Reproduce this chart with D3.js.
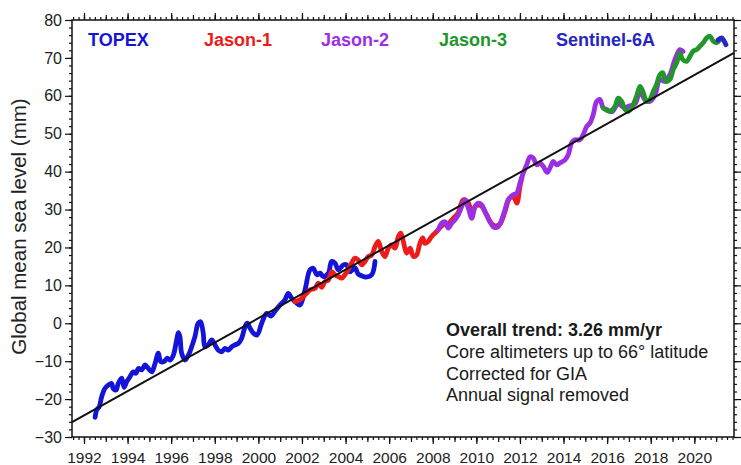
<!DOCTYPE html>
<html>
<head>
<meta charset="utf-8">
<script src="https://cdn.jsdelivr.net/npm/d3@7"></script>
<style>
    body { margin: 0; background: #fff; }
    svg text { font-family: "Liberation Sans", Arial, Helvetica, sans-serif; }
</style>
</head>
<body>
<svg id="gmsl" width="741" height="465"></svg>
<script>
// values (decimal year, mm)
const topexYears = [1992.51, 1992.58, 1992.70, 1992.81, 1992.96, 1993.12, 1993.27, 1993.34, 1993.47, 1993.57,
    1993.73, 1993.84, 1993.96, 1994.11, 1994.26, 1994.39, 1994.49, 1994.65, 1994.80, 1994.95,
    1995.11, 1995.26, 1995.41, 1995.52, 1995.67, 1995.82, 1995.95, 1996.10, 1996.25, 1996.33,
    1996.40, 1996.48, 1996.63, 1996.79, 1996.94, 1997.09, 1997.24, 1997.35, 1997.47, 1997.55,
    1997.70, 1997.86, 1998.01, 1998.16, 1998.32, 1998.47, 1998.62, 1998.78, 1998.93, 1999.08,
    1999.23, 1999.39, 1999.49, 1999.62, 1999.77, 1999.94, 2000.17, 2000.38, 2000.58, 2000.76,
    2000.99, 2001.22, 2001.37, 2001.53, 2001.76, 2001.91, 2002.14, 2002.37, 2002.52, 2002.68,
    2002.83, 2002.98, 2003.21, 2003.36, 2003.51, 2003.67, 2003.90, 2004.05, 2004.20, 2004.43,
    2004.58, 2004.75, 2004.94, 2005.20, 2005.35];
const topexValues = [-24.8, -22.9, -22.0, -19.4, -17.2, -16.3, -15.9, -17.2, -17.6, -15.9,
    -14.5, -16.9, -15.4, -14.1, -12.8, -13.2, -11.9, -12.3, -11.0, -11.9,
    -12.8, -10.6, -7.9, -10.1, -10.1, -9.2, -9.7, -8.4, -4.4, -2.5,
    -3.5, -7.9, -9.7, -8.4, -6.2, -3.5, 0.0, 0.4, -2.6, -6.2,
    -5.7, -4.4, -5.7, -7.1, -7.5, -6.6, -7.1, -6.2, -5.7, -5.3,
    -4.0, -0.9, 0.0, -1.3, -2.6, -3.1, 0.3, 2.6, 1.9, 3.2,
    4.8, 6.2, 7.9, 6.6, 5.3, 4.8, 8.8, 14.1, 14.5, 12.8,
    13.2, 12.3, 13.2, 16.3, 15.9, 14.1, 15.4, 15.4, 13.6, 14.6,
    13.0, 12.5, 12.2, 12.8, 16.3];

const jason1Years = [2001.68, 2001.91, 2002.14, 2002.37, 2002.60, 2002.75, 2002.90, 2003.06, 2003.21, 2003.36,
    2003.51, 2003.67, 2003.82, 2003.97, 2004.12, 2004.28, 2004.43, 2004.58, 2004.74, 2004.89,
    2005.04, 2005.20, 2005.35, 2005.50, 2005.66, 2005.81, 2005.96, 2006.12, 2006.27, 2006.42,
    2006.53, 2006.65, 2006.80, 2006.96, 2007.11, 2007.26, 2007.41, 2007.54, 2007.64, 2007.79,
    2007.95, 2008.18, 2008.48, 2008.70, 2008.94, 2009.16, 2009.40, 2009.63, 2009.80, 2009.98,
    2010.21, 2010.44, 2010.67, 2010.85, 2011.08, 2011.31, 2011.54, 2011.73, 2011.86, 2012.00,
    2012.09];
const jason1Values = [5.7, 6.2, 7.5, 8.8, 9.2, 10.6, 9.5, 11.0, 11.4, 13.6,
    12.8, 12.3, 11.9, 12.8, 14.1, 15.9, 17.2, 16.7, 15.4, 16.3,
    17.6, 18.0, 20.2, 21.6, 18.9, 17.6, 19.8, 20.7, 19.8, 22.9,
    23.8, 21.6, 18.5, 19.8, 17.6, 18.0, 21.1, 22.5, 21.1, 21.6,
    22.9, 24.2, 26.0, 26.2, 27.7, 29.1, 32.6, 31.8, 28.9, 31.0,
    31.0, 28.9, 26.5, 25.7, 26.2, 29.4, 33.1, 33.1, 31.7, 36.1,
    38.4];

const jason2Years = [2008.25, 2008.41, 2008.56, 2008.71, 2008.87, 2009.02, 2009.17, 2009.33, 2009.48, 2009.63,
    2009.79, 2009.94, 2010.09, 2010.24, 2010.40, 2010.62, 2010.81, 2011.01, 2011.16, 2011.31,
    2011.46, 2011.69, 2011.85, 2012.00, 2012.15, 2012.31, 2012.46, 2012.61, 2012.77, 2012.92,
    2013.07, 2013.25, 2013.41, 2013.53, 2013.68, 2013.84, 2014.07, 2014.22, 2014.37, 2014.52,
    2014.75, 2014.90, 2015.06, 2015.21, 2015.36, 2015.52, 2015.67, 2015.82, 2015.98, 2016.22,
    2016.50, 2016.77, 2017.05, 2017.28, 2017.51, 2017.73, 2017.96, 2018.19, 2018.42, 2018.65,
    2018.88, 2019.11, 2019.34, 2019.48];
const jason2Values = [24.6, 26.4, 26.8, 25.1, 26.4, 27.3, 28.6, 30.8, 32.6, 30.4,
    27.7, 30.8, 31.7, 31.3, 29.5, 26.8, 25.3, 25.5, 27.3, 29.9,
    32.6, 33.9, 34.3, 37.0, 39.6, 41.8, 43.9, 43.6, 41.8, 42.3,
    41.4, 39.8, 41.4, 42.7, 41.8, 42.3, 43.1, 44.5, 47.6, 48.4,
    48.4, 49.7, 51.9, 52.8, 55.0, 58.5, 59.0, 56.8, 56.4, 55.8,
    57.9, 56.9, 57.4, 57.9, 61.1, 59.0, 58.5, 60.1, 64.3, 63.8,
    65.6, 69.6, 72.2, 71.7];

const jason3Years = [2015.82, 2016.13, 2016.36, 2016.51, 2016.67, 2016.82, 2016.97, 2017.12, 2017.35, 2017.51,
    2017.66, 2017.81, 2017.96, 2018.12, 2018.27, 2018.42, 2018.55, 2018.70, 2018.88, 2019.03,
    2019.19, 2019.34, 2019.46, 2019.65, 2019.80, 2019.95, 2020.11, 2020.26, 2020.41, 2020.57,
    2020.72, 2020.87, 2021.02, 2021.18];
const jason3Values = [56.8, 55.9, 57.2, 59.4, 58.5, 56.4, 55.9, 56.8, 59.9, 62.5,
    60.8, 58.5, 59.0, 61.2, 63.0, 65.6, 66.1, 63.8, 64.3, 66.9,
    68.7, 71.3, 69.6, 69.1, 70.4, 71.8, 72.2, 73.1, 74.0, 75.3,
    75.7, 74.4, 74.0, 74.8];

const sentinelYears = [2021.08, 2021.25, 2021.37, 2021.45];
const sentinelValues = [74.7, 75.3, 74.4, 73.5];

const trendYears = [1991.45, 2021.82];
const trendValues = [-26.1, 71.3];

const missionNames = ['TOPEX', 'Jason-1', 'Jason-2', 'Jason-3', 'Sentinel-6A'];
const missionColors = ['#1414d8', '#ee1b1b', '#9b2fe3', '#22962b', '#2626c4'];

const yearTicks = d3.range(1992, 2021, 2);
const valueTicks = d3.range(-30, 81, 10);
const noteLines = ['Overall trend: 3.26 mm/yr', 'Core altimeters up to 66° latitude',
    'Corrected for GIA', 'Annual signal removed'];

/** Class drawing the sea level chart. */
class SeaLevelChart {
    /**
     * Creates the chart and its scales
     */
    constructor() {
        this.svg = d3.select('svg#gmsl');
        this.left = 72;
        this.right = 734;
        this.top = 20;
        this.bottom = 437;
        this.x = d3.scaleLinear().domain([1991.45, 2021.82]).range([this.left, this.right]);
        this.y = d3.scaleLinear().domain([-30, 80]).range([this.bottom, this.top]);
    }

    /**
     * Draws the frame and the ticks on all four sides
     */
    drawAxes() {
        let x = this.x, y = this.y;
        let quarters = d3.range(1991.5, 2021.8, 0.25);
        let years = d3.range(1992, 2022, 1);
        let minorY = d3.range(-30, 81, 2);

        let sides = [
            {axis: d3.axisBottom(x), at: [0, this.bottom], horizontal: true},
            {axis: d3.axisTop(x), at: [0, this.top], horizontal: true},
            {axis: d3.axisLeft(y), at: [this.left, 0], horizontal: false},
            {axis: d3.axisRight(y), at: [this.right, 0], horizontal: false}
        ];
        for (let s of sides) {
            let g = this.svg.append('g').attr('transform', 'translate(' + s.at + ')');
            // minor ticks
            g.append('g').call(s.axis.tickValues(s.horizontal ? quarters : minorY)
                .tickSize(3).tickSizeOuter(0).tickFormat(''));
            if (s.horizontal) {
                g.append('g').call(s.axis.tickValues(years).tickSize(5).tickFormat(''));
            }
            g.append('g').attr('class', 'major')
                .call(s.axis.tickValues(s.horizontal ? yearTicks : valueTicks).tickSize(7));
            g.selectAll('.domain').remove();
            g.selectAll('line').attr('stroke', '#111').attr('stroke-width', 1.2);
        }

        // labels only on bottom and left
        let bottomAxis = d3.axisBottom(x).tickValues(yearTicks).tickSize(0).tickPadding(15)
            .tickFormat(d3.format('d'));
        this.svg.append('g').attr('transform', 'translate(0,' + this.bottom + ')')
            .call(bottomAxis)
            .call(g => g.select('.domain').remove())
            .selectAll('text').attr('font-size', 15.5).attr('fill', '#222');
        let leftAxis = d3.axisLeft(y).tickValues(valueTicks).tickSize(0).tickPadding(10);
        this.svg.append('g').attr('transform', 'translate(' + this.left + ',0)')
            .call(leftAxis)
            .call(g => g.select('.domain').remove())
            .selectAll('text').attr('font-size', 16).attr('fill', '#222');
        this.svg.selectAll('.major text').remove();

        this.svg.append('rect')
            .attr('x', this.left).attr('y', this.top)
            .attr('width', this.right - this.left).attr('height', this.bottom - this.top)
            .attr('fill', 'none').attr('stroke', '#111').attr('stroke-width', 1.5);

        this.svg.append('text')
            .attr('transform', 'translate(26,' + ((this.top + this.bottom) / 2 - 2) + ') rotate(-90)')
            .attr('text-anchor', 'middle')
            .attr('font-size', 20.5)
            .attr('fill', '#222')
            .text('Global mean sea level (mm)');
    }

    /**
     * Draws one mission curve
     */
    drawSeries(years, values, color) {
        let line = d3.line()
            .x(d => this.x(d[0]))
            .y(d => this.y(d[1]))
            .curve(d3.curveCatmullRom.alpha(0.5));
        this.svg.append('path')
            .datum(d3.zip(years, values))
            .attr('d', line)
            .attr('fill', 'none')
            .attr('stroke', color)
            .attr('stroke-width', 4.8)
            .attr('stroke-linejoin', 'round')
            .attr('stroke-linecap', 'round');
    }

    /**
     * Draws the trend line, mission names and the note
     */
    drawLabels() {
        this.svg.append('line')
            .attr('x1', this.x(trendYears[0])).attr('y1', this.y(trendValues[0]))
            .attr('x2', this.x(trendYears[1])).attr('y2', this.y(trendValues[1]))
            .attr('stroke', '#111').attr('stroke-width', 2);

        let nameX = [88, 204, 321, 439, 556];
        this.svg.selectAll('text.mission')
            .data(missionNames)
            .enter()
            .append('text')
            .attr('class', 'mission')
            .attr('x', (d, i) => nameX[i])
            .attr('y', 46)
            .attr('font-size', 18)
            .attr('font-weight', 'bold')
            .attr('fill', (d, i) => missionColors[i])
            .text(d => d);

        this.svg.selectAll('text.note')
            .data(noteLines)
            .enter()
            .append('text')
            .attr('class', 'note')
            .attr('x', 446)
            .attr('y', (d, i) => 336 + i * 21.8)
            .attr('font-size', 18)
            .attr('font-weight', (d, i) => i === 0 ? 'bold' : 'normal')
            .attr('fill', '#1a1a1a')
            .text(d => d);
    }
}

let chart = new SeaLevelChart();
chart.drawAxes();
chart.drawSeries(topexYears, topexValues, missionColors[0]);
chart.drawSeries(jason1Years, jason1Values, missionColors[1]);
chart.drawSeries(jason2Years, jason2Values, missionColors[2]);
chart.drawSeries(jason3Years, jason3Values, missionColors[3]);
chart.drawSeries(sentinelYears, sentinelValues, missionColors[4]);
chart.drawLabels();
</script>
</body>
</html>
